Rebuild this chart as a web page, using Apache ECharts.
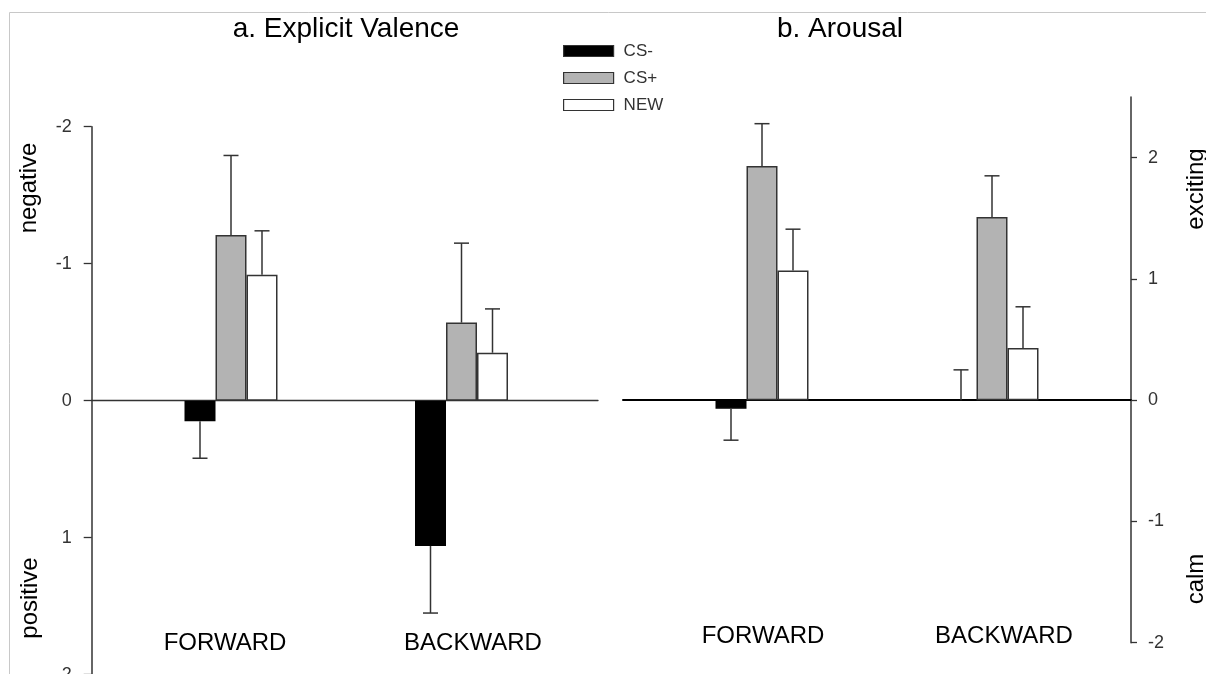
<!DOCTYPE html>
<html>
<head>
<meta charset="utf-8">
<script src="https://cdn.jsdelivr.net/npm/echarts@6/dist/echarts.min.js"></script>
<style>
html,body{margin:0;padding:0;background:#fff;}
#chart{width:1206px;height:674px;}
</style>
</head>
<body>
<div id="chart"></div>
<script>
// ---- data ----
const categories = ['FORWARD', 'BACKWARD'];
const conditions = ['CS-', 'CS+', 'NEW'];
// a. Explicit Valence (axis inverted: negative values drawn upward)
const valenceCSminus = [0.15, 1.06];
const valenceCSplus = [-1.21, -0.57];
const valenceNew = [-0.92, -0.35];
const valenceErrCSminus = [0.27, 0.49];
const valenceErrCSplus = [0.58, 0.58];
const valenceErrNew = [0.32, 0.32];
// b. Arousal
const arousalCSminus = [-0.07, 0];
const arousalCSplus = [1.93, 1.51];
const arousalNew = [1.07, 0.43];
const arousalErrCSminus = [0.26, 0.25];
const arousalErrCSplus = [0.35, 0.34];
const arousalErrNew = [0.34, 0.34];
// axis ticks
const valenceTicks = [-2, -1, 0, 1, 2];
const arousalTicks = [-2, -1, 0, 1, 2];

const FONT = '"Liberation Sans", Arial, sans-serif';
const colors = ['#000000', '#b3b3b3', '#ffffff'];
const BAR_W = 31;

function errData(vals, errs) {
  return vals.map((v, i) => [i, v, v + (v < 0 ? -errs[i] : errs[i])]);
}

function errSeries(name, xi, yi, vals, errs, offset) {
  return {
    type: 'custom', name: name, xAxisIndex: xi, yAxisIndex: yi, z: 5,
    data: errData(vals, errs),
    encode: {x: 0, y: [1, 2]},
    renderItem: function (params, api) {
      const p0 = api.coord([api.value(0), api.value(1)]);
      const p1 = api.coord([api.value(0), api.value(2)]);
      const x = p0[0] + offset * BAR_W;
      const style = {stroke: '#333', lineWidth: 1.5, fill: null};
      return {type: 'group', children: [
        {type: 'line', shape: {x1: x, y1: p0[1], x2: x, y2: p1[1]}, style: style},
        {type: 'line', shape: {x1: x - 7.5, y1: p1[1], x2: x + 7.5, y2: p1[1]}, style: style}
      ]};
    }
  };
}

function barSeries(name, xi, yi, vals, idx) {
  return {
    type: 'bar', name: name, xAxisIndex: xi, yAxisIndex: yi,
    data: vals, barWidth: BAR_W, barGap: '0%',
    itemStyle: {color: colors[idx], borderColor: idx === 0 ? '#000' : '#333', borderWidth: 1.5},
    emphasis: {disabled: true}
  };
}

const hiddenValueX = (gi, lineW, lineC) => ({
  gridIndex: gi, type: 'value', min: 0, max: 1,
  axisLine: {show: true, onZero: true, lineStyle: {color: lineC, width: lineW}},
  axisTick: {show: false}, axisLabel: {show: false}, splitLine: {show: false}
});
const hiddenCatX = (gi) => ({gridIndex: gi, type: 'category', data: categories, show: false});
const labelCatX = (gi) => ({
  gridIndex: gi, type: 'category', data: categories, position: 'bottom',
  axisLine: {show: false, onZero: false}, axisTick: {show: false},
  axisLabel: {margin: 0, fontSize: 24, color: '#000', fontFamily: FONT}
});

const G = (o) => Object.assign({outerBoundsMode: 'none', containLabel: false}, o);

const option = {
  animation: false,
  backgroundColor: '#ffffff',
  grid: [
    G({left: 91.7, top: 126.7, width: 506.3, height: 548}),
    G({left: 115.75, top: 126.7, width: 461, height: 548}),
    G({left: 101, top: 126.7, width: 496, height: 504.3}),
    G({left: 623, top: 97, width: 508, height: 545.7}),
    G({left: 647, top: 97, width: 460, height: 545.7}),
    G({left: 642.5, top: 97, width: 482, height: 527})
  ],
  legend: {
    orient: 'vertical', left: 563, top: 42, padding: 0,
    itemWidth: 50, itemHeight: 11, itemGap: 9,
    icon: 'rect',
    data: conditions.map((c, i) => ({name: c, itemStyle: {color: colors[i], borderColor: '#333', borderWidth: 1.2}})),
    textStyle: {fontSize: 17, color: '#333', fontFamily: FONT, lineHeight: 18, padding: [0, 0, 0, 5]},
    selectedMode: false
  },
  xAxis: [
    hiddenValueX(0, 1.3, '#333'),
    hiddenCatX(1),
    labelCatX(2),
    hiddenValueX(3, 2, '#000'),
    hiddenCatX(4),
    labelCatX(5)
  ],
  yAxis: [
    {gridIndex: 0, type: 'value', inverse: true, min: -2, max: 2, interval: 1, position: 'left',
     axisLine: {show: true, onZero: false, lineStyle: {color: '#333', width: 1.5}},
     axisTick: {show: true, length: 8, lineStyle: {color: '#333', width: 1.3}, customValues: valenceTicks},
     axisLabel: {margin: 20, fontSize: 18, color: '#333', fontFamily: FONT, customValues: valenceTicks},
     splitLine: {show: false}},
    {gridIndex: 1, type: 'value', inverse: true, min: -2, max: 2, show: false, splitLine: {show: false}},
    {gridIndex: 2, type: 'value', show: false, splitLine: {show: false}},
    {gridIndex: 3, type: 'value', position: 'right', min: -2, max: 2.5, interval: 1,
     axisLine: {show: true, onZero: false, lineStyle: {color: '#333', width: 1.5}},
     axisTick: {show: true, length: 6, lineStyle: {color: '#333', width: 1.3}, customValues: arousalTicks},
     axisLabel: {margin: 17, fontSize: 18, color: '#333', fontFamily: FONT, customValues: arousalTicks},
     splitLine: {show: false}},
    {gridIndex: 4, type: 'value', min: -2, max: 2.5, show: false, splitLine: {show: false}},
    {gridIndex: 5, type: 'value', show: false, splitLine: {show: false}}
  ],
  series: [
    barSeries('CS-', 1, 1, valenceCSminus, 0),
    barSeries('CS+', 1, 1, valenceCSplus, 1),
    barSeries('NEW', 1, 1, valenceNew, 2),
    errSeries('err-v-csm', 1, 1, valenceCSminus, valenceErrCSminus, -1),
    errSeries('err-v-csp', 1, 1, valenceCSplus, valenceErrCSplus, 0),
    errSeries('err-v-new', 1, 1, valenceNew, valenceErrNew, 1),
    barSeries('CS-', 4, 4, arousalCSminus, 0),
    barSeries('CS+', 4, 4, arousalCSplus, 1),
    barSeries('NEW', 4, 4, arousalNew, 2),
    errSeries('err-a-csm', 4, 4, arousalCSminus, arousalErrCSminus, -1),
    errSeries('err-a-csp', 4, 4, arousalCSplus, arousalErrCSplus, 0),
    errSeries('err-a-new', 4, 4, arousalNew, arousalErrNew, 1)
  ],
  graphic: [
    {type: 'rect', shape: {x: 9.5, y: 12.5, width: 1300, height: 700}, style: {fill: null, stroke: '#c8c8c8', lineWidth: 1}, silent: true},
    {type: 'text', x: 346, y: 29, style: {text: 'a. Explicit Valence', font: '28px ' + FONT, fill: '#000', textAlign: 'center', textVerticalAlign: 'middle'}},
    {type: 'text', x: 840, y: 29, style: {text: 'b. Arousal', font: '28px ' + FONT, fill: '#000', textAlign: 'center', textVerticalAlign: 'middle'}},
    {type: 'text', x: 29, y: 188, rotation: Math.PI / 2, style: {text: 'negative', font: '24px ' + FONT, fill: '#000', textAlign: 'center', textVerticalAlign: 'middle'}},
    {type: 'text', x: 30, y: 598, rotation: Math.PI / 2, style: {text: 'positive', font: '24px ' + FONT, fill: '#000', textAlign: 'center', textVerticalAlign: 'middle'}},
    {type: 'text', x: 1196, y: 189, rotation: Math.PI / 2, style: {text: 'exciting', font: '24px ' + FONT, fill: '#000', textAlign: 'center', textVerticalAlign: 'middle'}},
    {type: 'text', x: 1196, y: 579, rotation: Math.PI / 2, style: {text: 'calm', font: '24px ' + FONT, fill: '#000', textAlign: 'center', textVerticalAlign: 'middle'}}
  ]
};

const chart = echarts.init(document.getElementById('chart'), null, {renderer: 'canvas'});
chart.setOption(option);
</script>
</body>
</html>
